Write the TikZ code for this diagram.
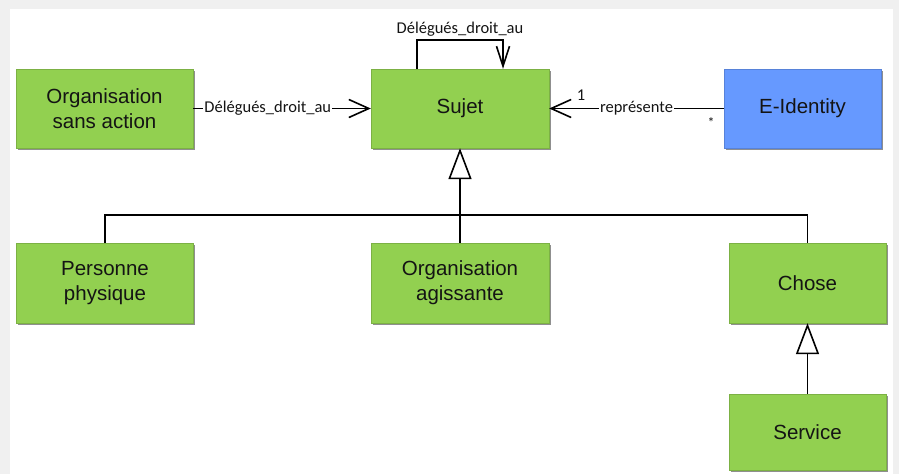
\documentclass[tikz,border=0pt]{standalone}
\usepackage{fontspec}
\setmainfont{Liberation Sans}
\newfontfamily\labfont{Carlito}
\usetikzlibrary{arrows.meta,shadows}

\definecolor{pagegrey}{HTML}{F0F0F0}
\definecolor{classgreen}{HTML}{92D050}
\definecolor{classblue}{HTML}{6699FF}
\definecolor{inktext}{HTML}{141414}

\tikzset{
  classbox/.style={rectangle, fill=classgreen, draw=classgreen!85!black, line width=0.4pt,
    text=inktext, align=center, inner sep=0pt,
    font=\fontsize{20.5}{25}\selectfont,
    drop shadow={shadow xshift=1.5pt, shadow yshift=-1.5pt, fill=black!55, opacity=0.8}},
  wide/.style={minimum width=178pt},
  narrow/.style={minimum width=157pt},
  tall/.style={minimum height=79pt},
  link/.style={line width=1.6pt, draw=black},
  openarrow/.style={link, -{Straight Barb[length=20pt, width=18pt, line width=1.6pt]}},
  loopstyle/.style={link, -{Straight Barb[length=20pt, width=13pt, line width=1.6pt]}},
  inherit/.style={link, -{Triangle[open, length=31pt, width=23pt, fill=white, line width=1.6pt]}},
  linklabel/.style={font=\labfont\fontsize{16.5}{18}\selectfont, text=inktext, inner sep=1pt},
  onlabel/.style={linklabel, fill=white}
}

\begin{document}
\begin{tikzpicture}[x=1pt, y=-1pt]
  % page frame
  \fill[pagegrey] (0,0) rectangle (899,474);
  \fill[white] (10,9) rectangle (893,474);
  \useasboundingbox (0,0) rectangle (899,474);

  % classes
  \node[classbox, wide, tall, minimum width=177pt] (osa) at (104.5,108.5) {Organisation\\sans action};
  \node[classbox, wide, tall] (sujet) at (460,108.5) {Sujet};
  \node[classbox, narrow, tall, fill=classblue, draw=classblue!85!black] (eid) at (802.5,108.5) {E-Identity};
  \node[classbox, wide, tall, minimum width=177pt, minimum height=80pt] (pp) at (105,283) {Personne\\physique};
  \node[classbox, wide, tall, minimum height=80pt] (oa) at (460,283) {Organisation\\agissante};
  \node[classbox, narrow, tall, minimum height=80pt] (chose) at (807.5,283) {Chose};
  \node[classbox, narrow, minimum height=76pt] (service) at (807.5,432) {Service};

  % associations
  \draw[openarrow] (osa) -- node[onlabel, pos=0.42] {Délégués\_droit\_au} (sujet);
  \draw[openarrow] (eid) -- node[onlabel, pos=0.5] {représente} (sujet);
  \node[linklabel] (multone) at (581,95) {1};
  \node[linklabel, font=\labfont\fontsize{14}{14}\selectfont] (multmany) at (711,123) {*};

  \draw[loopstyle] ([xshift=-43pt]sujet.north) -- ++(0,-29)
    -| node[linklabel, pos=0.25, above=2pt] {Délégués\_droit\_au} ([xshift=43pt]sujet.north);

  % generalisations
  \coordinate (bus) at (460,215);
  \draw[link] (pp.north) |- (bus) -| (chose.north);
  \draw[inherit] (oa) -- (sujet);
  \draw[inherit] (service) -- (chose);
\end{tikzpicture}
\end{document}
